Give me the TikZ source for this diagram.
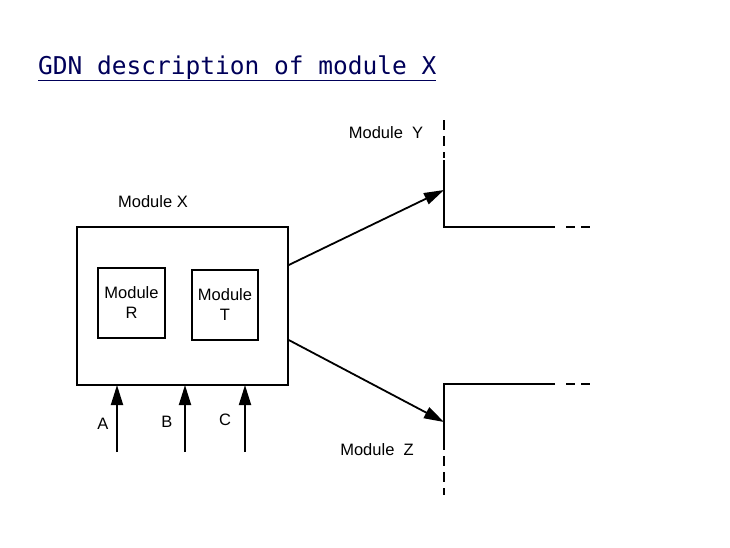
\documentclass[tikz,border=0pt]{standalone}
\usepackage{fontspec}
\setmainfont{Liberation Sans}
\newfontfamily\titlefont{DejaVu Sans Mono}
\usetikzlibrary{positioning,arrows.meta}
\begin{document}
\begin{tikzpicture}[
    x=1pt,y=-1pt,
    >={Triangle[length=20pt,width=12pt]},
    box/.style={draw,line width=1.5pt},
    lbl/.style={font=\fontsize{16.5}{20}\selectfont,align=center},
    wire/.style={line width=1.8pt}
]
    \useasboundingbox (0,0) rectangle (730,547);
    % Title
    \node[anchor=base west,inner sep=0pt,text=blue!35!black,font=\titlefont\fontsize{24.5}{27}\selectfont] (title) at (38,74) {\underline{GDN description of module X}};
    % Modules
    \node[box,minimum width=211pt,minimum height=158pt] (X) at (182.5,306) {};
    \node[lbl] (Xl) at (153,202) {Module X};
    \node[box,lbl,minimum width=67pt,minimum height=70pt] (R) at (131.5,303) {Module\\R};
    \node[box,lbl,minimum width=66pt,minimum height=70pt] (T) at (225,305) {Module\\T};
    % Inputs
    \foreach \n/\x/\lx/\ly in {A/117/103/424,B/185/167/422,C/245/225/420}{
        \coordinate (\n in) at (\x,452);
        \draw[wire,->] (\n in) -- (\x,385);
        \node[lbl] (\n) at (\lx,\ly) {\n};
    }
    % Module Y
    \coordinate (Ytop) at (444,120);
    \coordinate (Ycorner) at (444,227);
    \coordinate (Yend) at (590,227);
    \draw[wire,dash pattern=on 10pt off 6pt] (Ytop) -- (444,158);
    \draw[wire] (444,160) -- (Ycorner) -- (555,227);
    \draw[wire,dash pattern=on 9pt off 6pt] (566,227) -- (Yend);
    \node[lbl] (Yl) at (386,133) {Module\ \ Y};
    % Module Z
    \coordinate (Zcorner) at (444,384);
    \coordinate (Zend) at (590,384);
    \coordinate (Zbot) at (444,495);
    \draw[wire] (555,384) -- (Zcorner) -- (444,450);
    \draw[wire,dash pattern=on 9pt off 6pt] (566,384) -- (Zend);
    \draw[wire,dash pattern=on 10pt off 6pt] (444,456) -- (Zbot);
    \node[lbl] (Zl) at (377,450) {Module\ \ Z};
    % Outputs
    \draw[wire,->] (X.east |- 0,265) -- (444,190);
    \draw[wire,->] (X.east |- 0,340) -- (444,422);
\end{tikzpicture}
\end{document}
